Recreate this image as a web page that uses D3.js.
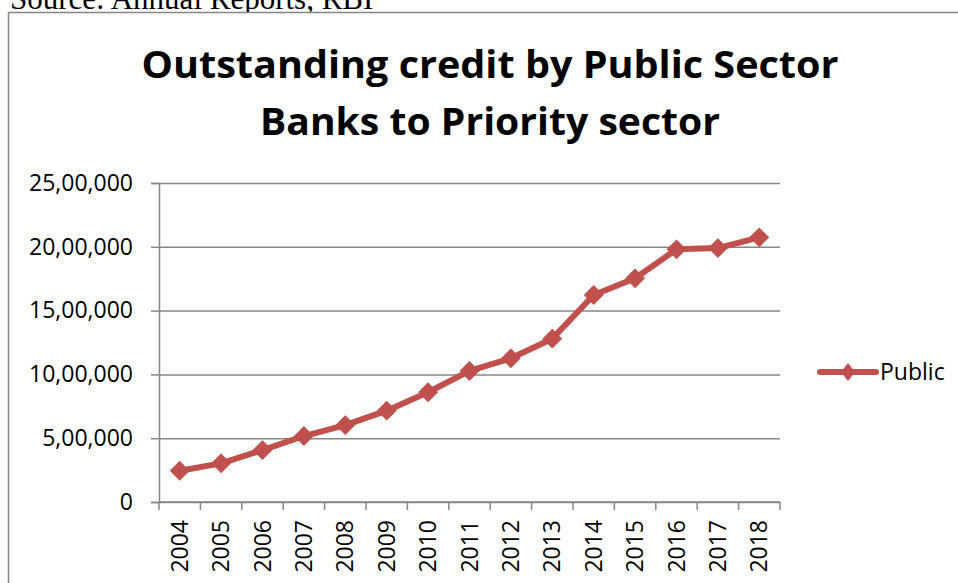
<!DOCTYPE html>
<html>
<head>
<meta charset="utf-8">
<script src="https://cdn.jsdelivr.net/npm/d3@7"></script>
<style>
  html, body { margin: 0; padding: 0; background: #fff; }
  svg { display: block; }
</style>
</head>
<body>
<svg id="chart" width="958" height="583"></svg>
<script>
// Outstanding priority-sector credit of public sector banks (Rs crore)
const years = ["2004","2005","2006","2007","2008","2009","2010","2011","2012","2013","2014","2015","2016","2017","2018"];
const publicCredit = [245000, 303000, 407000, 517000, 603000, 716000, 860000, 1027000, 1126000, 1280000, 1622000, 1753000, 1980000, 1990000, 2074000];
const yTicks = [0, 500000, 1000000, 1500000, 2000000, 2500000];
const yTickLabels = ["0", "5,00,000", "10,00,000", "15,00,000", "20,00,000", "25,00,000"];
const seriesName = "Public";
const titleLines = ["Outstanding credit by Public Sector", "Banks to Priority sector"];
const sourceNote = "Source: Annual Reports, RBI";

const W = 958, H = 583;
const plot = { left: 159, right: 780, top: 183, bottom: 502 };
const lineColor = "#C0504D";
const axisColor = "#868686";
const font = "'Open Sans', 'Noto Sans', sans-serif";

const svg = d3.select("#chart");

// source line above the chart frame (partly cut by the page edge)
svg.append("text")
  .attr("x", 10).attr("y", 9)
  .attr("font-family", "'Liberation Serif', 'Times New Roman', serif")
  .attr("font-size", 31)
  .attr("fill", "#000")
  .text(sourceNote);

// chart frame
svg.append("rect")
  .attr("x", 8.5).attr("y", 12.5)
  .attr("width", W + 20).attr("height", H + 20)
  .attr("fill", "#fff")
  .attr("stroke", axisColor).attr("stroke-width", 1.5);

// title
const titleWidths = [697, 460];
svg.selectAll("text.title").data(titleLines).join("text")
  .attr("class", "title")
  .attr("x", 490)
  .attr("y", (d, i) => 78 + i * 57)
  .attr("text-anchor", "middle")
  .attr("font-family", font)
  .attr("font-weight", 700)
  .attr("font-size", 37)
  .attr("textLength", (d, i) => titleWidths[i])
  .attr("lengthAdjust", "spacingAndGlyphs")
  .attr("fill", "#000")
  .text(d => d);

const x = d3.scaleBand().domain(years).range([plot.left, plot.right]);
const y = d3.scaleLinear().domain([0, 2500000]).range([plot.bottom, plot.top]);

// horizontal gridlines
svg.append("g")
  .attr("transform", `translate(${plot.left},0)`)
  .call(d3.axisLeft(y).tickValues(yTicks).tickSize(-(plot.right - plot.left)).tickFormat(""))
  .call(g => g.select(".domain").remove())
  .call(g => g.selectAll("line").attr("stroke", axisColor).attr("stroke-width", 1.5));

// y axis
svg.append("g")
  .attr("transform", `translate(${plot.left},0)`)
  .call(d3.axisLeft(y).tickValues(yTicks).tickSize(8).tickPadding(18)
    .tickFormat((d, i) => yTickLabels[i]))
  .call(g => g.select(".domain").attr("stroke", axisColor).attr("stroke-width", 1.5))
  .call(g => g.selectAll("line").attr("stroke", axisColor).attr("stroke-width", 1.5))
  .call(g => g.selectAll("text")
    .attr("font-family", font).attr("font-size", 23).attr("fill", "#000"));

// x axis: baseline, category boundary ticks, rotated year labels
const xAxis = svg.append("g").attr("transform", `translate(0,${plot.bottom})`);
xAxis.append("line")
  .attr("x1", plot.left).attr("x2", plot.right)
  .attr("stroke", axisColor).attr("stroke-width", 1.5);
const boundaries = years.map(d => x(d)).concat([x(years[years.length - 1]) + x.bandwidth()]);
xAxis.selectAll("line.tick").data(boundaries).join("line")
  .attr("class", "tick")
  .attr("x1", d => d).attr("x2", d => d)
  .attr("y1", 0).attr("y2", 8)
  .attr("stroke", axisColor).attr("stroke-width", 1.5);
xAxis.selectAll("text").data(years).join("text")
  .attr("transform", d => `translate(${x(d) + x.bandwidth() / 2},18) rotate(-90)`)
  .attr("text-anchor", "end")
  .attr("dy", "0.35em")
  .attr("font-family", font).attr("font-size", 23).attr("fill", "#000")
  .text(d => d);

// series line and diamond markers
const pts = years.map((d, i) => [x(d) + x.bandwidth() / 2, y(publicCredit[i])]);
svg.append("path")
  .attr("d", d3.line()(pts))
  .attr("fill", "none")
  .attr("stroke", lineColor).attr("stroke-width", 6)
  .attr("stroke-linejoin", "round");

const diamond = d3.symbol().type(d3.symbolSquare).size(170);
svg.selectAll("path.marker").data(pts).join("path")
  .attr("class", "marker")
  .attr("d", diamond)
  .attr("transform", d => `translate(${d[0]},${d[1]}) rotate(45)`)
  .attr("fill", lineColor)
  .attr("stroke", lineColor).attr("stroke-width", 1);

// legend
const lg = svg.append("g").attr("transform", "translate(820,372)");
lg.append("line")
  .attr("x1", 0).attr("x2", 56)
  .attr("stroke", lineColor).attr("stroke-width", 6)
  .attr("stroke-linecap", "round");
lg.append("path")
  .attr("d", "M28,-9 L35,0 L28,9 L21,0 Z")
  .attr("fill", lineColor);
lg.append("text")
  .attr("x", 60).attr("y", 0).attr("dy", "0.35em")
  .attr("font-family", font).attr("font-size", 23).attr("fill", "#000")
  .text(seriesName);
</script>
</body>
</html>
